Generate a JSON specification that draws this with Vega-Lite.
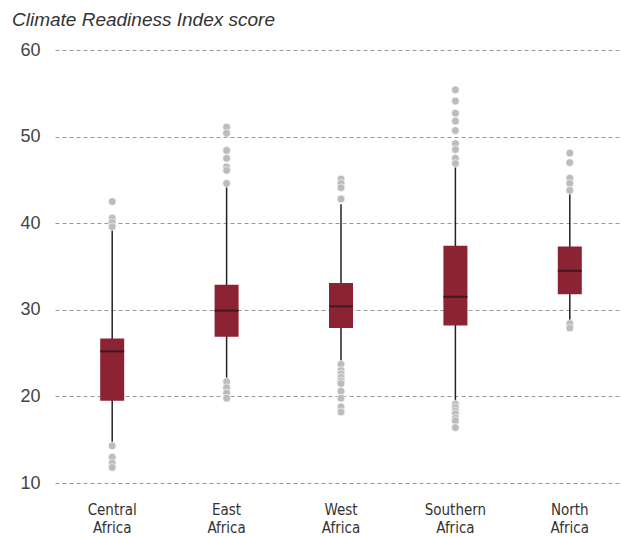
{
  "$schema": "https://vega.github.io/schema/vega-lite/v6.json",
  "width": 572,
  "height": 433,
  "autosize": "none",
  "padding": {"left": 55, "top": 50, "right": 0, "bottom": 53},
  "background": "white",
  "config": {
    "view": {"stroke": null},
    "font": "Liberation Sans"
  },
  "title": {
    "text": "Climate Readiness Index score",
    "anchor": "start",
    "frame": "group",
    "dx": -43,
    "offset": 11,
    "fontSize": 19,
    "fontStyle": "italic",
    "fontWeight": "normal",
    "color": "#333333",
    "font": "Liberation Sans"
  },
  "datasets": {
    "summary": [
      {"region": "Central Africa", "lo": 14.5, "q1": 19.5, "median": 25.2, "q3": 26.7, "hi": 39.4},
      {"region": "East Africa", "lo": 21.9, "q1": 26.9, "median": 29.9, "q3": 32.9, "hi": 44.3},
      {"region": "West Africa", "lo": 23.9, "q1": 27.9, "median": 30.4, "q3": 33.1, "hi": 42.2},
      {"region": "Southern Africa", "lo": 19.3, "q1": 28.2, "median": 31.5, "q3": 37.4, "hi": 46.5},
      {"region": "North Africa", "lo": 28.5, "q1": 31.8, "median": 34.5, "q3": 37.3, "hi": 43.7}
    ],
    "outliers": [
      {"region": "Central Africa", "value": 42.5},
      {"region": "Central Africa", "value": 40.6},
      {"region": "Central Africa", "value": 40.1},
      {"region": "Central Africa", "value": 39.6},
      {"region": "Central Africa", "value": 14.3},
      {"region": "Central Africa", "value": 13.0},
      {"region": "Central Africa", "value": 12.3},
      {"region": "Central Africa", "value": 11.8},
      {"region": "East Africa", "value": 51.1},
      {"region": "East Africa", "value": 50.4},
      {"region": "East Africa", "value": 48.4},
      {"region": "East Africa", "value": 47.5},
      {"region": "East Africa", "value": 46.5},
      {"region": "East Africa", "value": 46.1},
      {"region": "East Africa", "value": 44.6},
      {"region": "East Africa", "value": 21.7},
      {"region": "East Africa", "value": 21.0},
      {"region": "East Africa", "value": 20.4},
      {"region": "East Africa", "value": 19.8},
      {"region": "West Africa", "value": 45.1},
      {"region": "West Africa", "value": 44.6},
      {"region": "West Africa", "value": 44.1},
      {"region": "West Africa", "value": 42.8},
      {"region": "West Africa", "value": 23.7},
      {"region": "West Africa", "value": 23.0},
      {"region": "West Africa", "value": 22.6},
      {"region": "West Africa", "value": 22.2},
      {"region": "West Africa", "value": 21.8},
      {"region": "West Africa", "value": 21.5},
      {"region": "West Africa", "value": 20.6},
      {"region": "West Africa", "value": 19.8},
      {"region": "West Africa", "value": 18.8},
      {"region": "West Africa", "value": 18.2},
      {"region": "Southern Africa", "value": 55.4},
      {"region": "Southern Africa", "value": 54.1},
      {"region": "Southern Africa", "value": 52.7},
      {"region": "Southern Africa", "value": 51.8},
      {"region": "Southern Africa", "value": 50.7},
      {"region": "Southern Africa", "value": 49.2},
      {"region": "Southern Africa", "value": 48.5},
      {"region": "Southern Africa", "value": 47.5},
      {"region": "Southern Africa", "value": 46.9},
      {"region": "Southern Africa", "value": 19.1},
      {"region": "Southern Africa", "value": 18.7},
      {"region": "Southern Africa", "value": 18.3},
      {"region": "Southern Africa", "value": 18.0},
      {"region": "Southern Africa", "value": 17.5},
      {"region": "Southern Africa", "value": 17.2},
      {"region": "Southern Africa", "value": 16.4},
      {"region": "North Africa", "value": 48.1},
      {"region": "North Africa", "value": 47.0},
      {"region": "North Africa", "value": 45.2},
      {"region": "North Africa", "value": 44.6},
      {"region": "North Africa", "value": 43.8},
      {"region": "North Africa", "value": 28.4},
      {"region": "North Africa", "value": 27.9}
    ]
  },
  "encoding": {
    "x": {
      "field": "region",
      "type": "nominal",
      "sort": ["Central Africa", "East Africa", "West Africa", "Southern Africa", "North Africa"],
      "scale": {"paddingInner": 0, "paddingOuter": 0},
      "axis": {
        "title": null,
        "labelAngle": 0,
        "labelExpr": "split(datum.label, ' ')",
        "labelFont": "DejaVu Sans Condensed, Liberation Sans",
        "labelFontSize": 15,
        "labelLineHeight": 18,
        "labelColor": "#333333",
        "labelPadding": 19,
        "domain": false,
        "ticks": false,
        "grid": false
      }
    }
  },
  "layer": [
    {
      "data": {"name": "summary"},
      "mark": {"type": "rule", "color": "#222222", "strokeWidth": 1.5},
      "encoding": {
        "y": {
          "field": "lo",
          "type": "quantitative",
          "scale": {"domain": [10, 60], "nice": false, "zero": false},
          "axis": {
            "title": null,
            "values": [10, 20, 30, 40, 50, 60],
            "domain": false,
            "ticks": false,
            "labelFontSize": 18,
            "labelColor": "#444444",
            "labelPadding": 15,
            "gridColor": "#9a9a9a",
            "gridDash": [4, 3],
            "gridWidth": 1
          }
        },
        "y2": {"field": "hi"}
      }
    },
    {
      "data": {"name": "summary"},
      "mark": {"type": "bar", "width": 24, "color": "#8c2332"},
      "encoding": {
        "y": {"field": "q1", "type": "quantitative"},
        "y2": {"field": "q3"}
      }
    },
    {
      "data": {"name": "summary"},
      "mark": {"type": "tick", "orient": "horizontal", "size": 24, "thickness": 2, "color": "#3d1a20", "opacity": 1},
      "encoding": {
        "y": {"field": "median", "type": "quantitative"}
      }
    },
    {
      "data": {"name": "outliers"},
      "mark": {"type": "circle", "size": 60, "color": "#bcbcbc", "opacity": 1, "stroke": "white", "strokeWidth": 0.6},
      "encoding": {
        "y": {"field": "value", "type": "quantitative"}
      }
    }
  ]
}
